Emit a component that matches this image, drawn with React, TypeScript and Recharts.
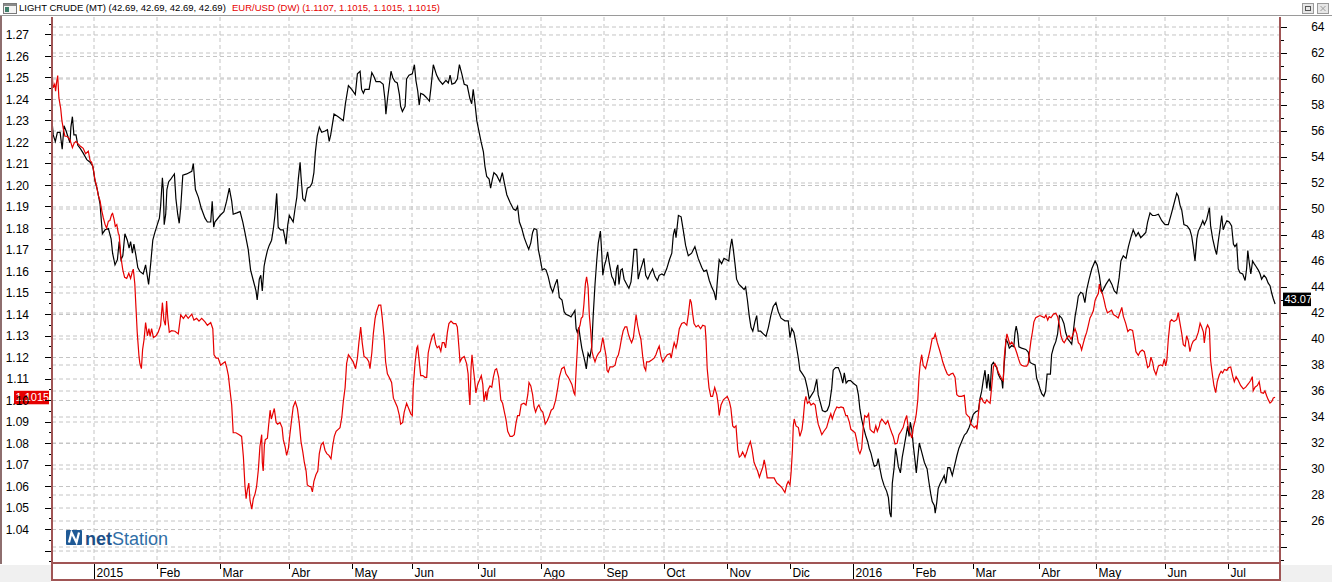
import React from 'react';
import { LineChart, Line, XAxis, YAxis, CartesianGrid, ReferenceLine } from 'recharts';

// ---------- data ----------
// [trading-day index, LIGHT CRUDE close]
const crudeSeries: [number, number][] = [
[0,56.8],[0.4,55.7],[1.1,55.2],[1.8,55.9],[2.7,55.9],[3.4,54.6],[4,56.4],[4.7,56.0],[5.4,55.5],[6,55.1],[6.3,56.3],[6.8,57.1],[7.3,55.7],[8,55.7],[8.6,54.9],[9.3,54.7],[10.4,54.3],[11.6,53.8],[12.7,53.6],[13.6,53.3],[14.3,52.2],[15.1,51.5],[16,50.4],[16.8,48.1],[17.7,48.4],[18.8,48.5],[19.7,47.7],[20.2,46.6],[21,45.7],[21.8,46.1],[22.4,47.5],[23,46.1],[23.6,46.4],[24.3,48.1],[25.1,47.6],[25.7,47.0],[26.2,47.5],[26.8,46.6],[27.3,47.3],[28,46.4],[28.6,45.5],[29.3,45.2],[30.4,45.0],[31.2,45.7],[31.8,44.8],[32.2,44.2],[32.9,45.8],[33.6,47.6],[34.3,48.2],[35.1,48.8],[35.8,49.3],[36.2,50.2],[36.8,52.4],[37.1,51.5],[37.4,48.8],[37.9,49.6],[38.3,51.5],[38.9,52.1],[39.6,52.3],[40.2,52.5],[40.8,52.7],[41.3,50.8],[41.9,49.6],[42.4,48.9],[42.9,50.1],[43.6,52.6],[44.9,52.7],[46.6,52.9],[47.1,53.5],[47.8,51.5],[48.8,50.9],[49.7,50.1],[51,49.3],[51.8,49.0],[52.9,49.0],[53.4,50.6],[53.9,48.6],[54.3,49.0],[56,49.5],[57.3,49.8],[58.2,50.6],[59.1,51.6],[59.9,50.6],[60.4,49.6],[61.6,49.7],[62.7,49.8],[63.6,49.0],[64.3,48.2],[65.4,46.9],[66.2,45.3],[67.1,44.5],[68,43.7],[68.4,43.0],[69.1,44.6],[69.6,44.9],[70.1,43.7],[70.7,45.6],[71.2,46.2],[71.8,46.8],[72.4,47.2],[73.2,47.6],[73.8,48.5],[74.3,49.5],[74.9,51.2],[75.4,48.6],[76.2,48.4],[77.1,48.4],[77.7,47.7],[78,47.3],[78.6,48.8],[79.1,49.5],[79.9,49.2],[80.4,49.0],[81,50.0],[81.6,50.9],[82.1,52.3],[82.7,53.6],[83,52.5],[83.6,50.8],[84.3,50.6],[85.1,51.6],[86,51.7],[86.7,52.0],[87.3,52.8],[87.8,54.4],[88.4,55.6],[89.1,56.3],[89.9,55.9],[91,56.0],[91.8,56.1],[92.4,55.2],[92.9,55.7],[93.6,56.7],[94,57.3],[95.4,57.1],[97.1,56.8],[97.8,58.1],[98.8,59.5],[99.9,59.2],[101.1,58.8],[101.8,60.4],[102.7,60.6],[103.2,59.2],[103.8,58.9],[104.3,59.2],[105.7,59.2],[106.6,60.5],[107.3,60.2],[108,59.8],[109.3,59.8],[110.4,59.6],[111,58.4],[111.3,57.3],[111.8,58.4],[112.4,59.5],[113,60.6],[113.6,60.1],[114.3,59.8],[115.1,59.7],[115.8,58.8],[116.2,57.9],[116.8,57.5],[117.7,57.9],[118.2,60.0],[119,60.3],[120.1,60.4],[120.8,61.1],[121.3,59.9],[121.9,59.1],[122.4,58.0],[122.9,58.9],[123.8,58.8],[124.7,58.6],[125.8,58.3],[126.3,59.3],[127.1,61.1],[128.2,60.3],[129.1,59.9],[130.2,59.6],[131.3,59.9],[132.1,59.7],[132.7,60.3],[133.3,59.6],[134.3,59.7],[135.1,60.0],[135.8,61.1],[136.6,60.4],[137.4,59.6],[138.4,59.5],[139.3,58.5],[139.9,58.1],[140.4,59.2],[141,58.1],[141.6,56.8],[142.3,56.0],[143,55.2],[143.8,54.4],[144.3,53.3],[144.9,52.5],[145.7,52.3],[146.2,51.6],[146.8,52.3],[147.3,52.8],[148.2,52.6],[149.3,52.1],[150.1,52.8],[150.8,52.0],[151.6,51.1],[152.7,50.5],[153.8,50.0],[154.6,49.9],[155.2,50.2],[155.8,49.0],[156.6,48.5],[157.4,47.8],[158.2,47.3],[158.9,46.9],[159.6,47.4],[160.2,48.2],[160.7,48.5],[161.6,48.4],[162.1,46.9],[162.7,46.2],[163.4,45.3],[164.1,45.4],[164.7,45.3],[165.4,44.8],[166.2,44.0],[166.9,43.6],[167.7,44.2],[168.4,44.6],[169.1,43.2],[170,43.0],[170.7,42.1],[171.3,41.9],[172.3,41.8],[173,41.7],[173.8,42.0],[174.3,42.2],[174.7,40.8],[175.1,40.5],[175.6,40.9],[176,40.2],[176.6,39.3],[177.1,38.8],[177.7,38.2],[178.1,37.7],[178.7,38.9],[179.3,38.6],[179.9,39.4],[180.4,41.8],[181,44.2],[181.6,46.1],[182.1,47.4],[182.8,48.3],[183.2,46.8],[183.6,44.9],[184.1,45.6],[184.7,46.1],[185.2,46.7],[185.8,45.8],[186.6,44.8],[187.1,44.6],[187.7,44.1],[188.2,45.4],[188.6,45.7],[189,44.2],[189.6,45.3],[190.1,45.4],[190.7,44.6],[191.6,44.2],[192.3,43.9],[193,44.4],[193.6,45.8],[194,46.9],[194.9,46.9],[195.4,44.6],[196,45.2],[196.8,45.8],[197.3,46.2],[197.9,44.9],[198.6,44.6],[199.3,45.0],[200.2,45.4],[201,44.8],[201.8,44.5],[202.4,44.9],[203.3,45.0],[204,44.9],[204.9,45.4],[205.8,46.1],[206.6,46.6],[207.1,48.0],[207.6,48.5],[208,47.8],[208.8,49.5],[209.7,49.4],[210.4,48.4],[211.2,47.2],[212.1,46.4],[213.2,46.6],[214.3,47.1],[215.4,46.2],[216.6,45.5],[217.3,45.2],[218.2,45.3],[219.1,44.5],[219.9,44.0],[220.7,43.6],[221.3,43.0],[221.9,44.8],[222.4,46.1],[223.2,45.8],[224,46.2],[224.9,46.1],[225.6,46.0],[226,46.9],[226.6,47.7],[227.1,46.9],[227.7,45.7],[228.2,44.6],[229,44.2],[229.9,44.0],[230.7,43.8],[231.2,44.0],[231.8,43.0],[232.4,41.8],[233,40.9],[233.6,40.6],[234.3,41.3],[234.9,41.8],[235.4,40.6],[236.2,40.6],[237.1,40.4],[238,40.2],[238.8,40.9],[239.6,41.8],[240.4,42.5],[241.3,42.8],[242.1,42.1],[243,41.6],[244.3,41.4],[245.4,41.4],[246,40.1],[246.6,40.8],[247.3,40.5],[248,39.6],[248.8,38.5],[249.3,37.6],[250.2,37.3],[251,37.0],[251.8,36.2],[252.4,35.4],[253.2,35.7],[254,36.0],[254.9,36.9],[255.4,35.7],[256,35.2],[256.8,34.5],[257.7,34.4],[258.4,34.5],[259.1,34.9],[259.9,36.2],[260.4,37.6],[261.2,37.8],[262.1,37.8],[262.9,37.3],[263.6,36.6],[264.1,37.4],[264.7,36.6],[265.4,36.8],[266.2,36.8],[267.1,36.6],[268.2,36.4],[268.8,35.7],[269.3,34.6],[269.9,33.8],[270.4,33.3],[271.2,32.6],[271.9,32.1],[272.4,31.6],[273,31.2],[273.6,30.6],[274.1,30.2],[274.9,30.3],[275.4,30.8],[275.9,30.1],[276.6,29.3],[277.4,28.7],[278.2,28.3],[278.8,27.8],[279.3,26.6],[279.7,26.3],[280.1,28.9],[280.7,30.1],[281.2,31.6],[281.7,30.9],[282.1,30.2],[282.8,29.7],[283.4,30.9],[284.1,31.8],[284.7,32.6],[285.2,33.3],[285.7,32.5],[286.1,33.6],[286.6,33.0],[287.1,31.8],[287.7,30.6],[288.1,29.7],[288.6,30.9],[289.1,32.0],[289.9,31.3],[290.8,30.5],[291.7,30.0],[292.3,29.0],[292.9,28.1],[293.4,27.5],[294.1,27.2],[294.4,26.6],[294.9,27.4],[295.4,28.5],[296.1,28.9],[296.8,29.2],[297.4,29.5],[297.9,28.9],[298.6,30.1],[299.3,30.1],[300.1,29.5],[300.8,30.2],[301.6,31.0],[302.3,31.6],[303.2,32.1],[304.1,32.6],[304.9,32.8],[305.7,33.2],[306.3,33.6],[307.1,34.2],[307.9,34.4],[308.8,34.5],[309.3,35.4],[309.9,36.0],[310.4,36.8],[311,37.6],[311.6,36.2],[312.1,37.3],[312.7,36.0],[313.2,38.0],[313.8,38.2],[314.3,38.0],[314.9,37.8],[315.4,37.3],[316,37.0],[316.6,36.8],[316.9,36.2],[317.3,37.8],[317.7,38.9],[318,40.0],[318.6,39.7],[319.1,39.3],[319.9,39.5],[320.6,39.4],[321,40.5],[321.4,41.0],[321.9,40.4],[322.3,39.4],[323.2,39.3],[324.6,39.2],[325.4,39.0],[326,38.2],[326.8,38.1],[327.7,38.0],[328.2,37.0],[328.8,36.6],[329.3,36.2],[329.9,35.8],[330.6,35.6],[331.2,36.0],[331.7,37.3],[332.3,37.3],[332.8,37.3],[333.2,38.8],[333.9,39.4],[334.6,39.8],[335.2,40.4],[335.8,41.8],[336.6,41.6],[337.3,41.2],[337.9,40.5],[338.6,40.0],[339.3,39.8],[339.9,39.6],[340.4,40.5],[341,41.7],[341.6,42.5],[342.1,43.3],[342.9,43.6],[343.6,43.5],[344.3,42.8],[344.9,43.8],[345.7,44.6],[346.6,45.4],[347.7,46.0],[348.4,45.7],[349.1,44.9],[349.9,43.6],[350.4,43.8],[351.3,44.2],[352.4,44.6],[353.3,44.2],[354.1,43.7],[354.9,43.5],[355.7,44.7],[356.3,46.0],[357.1,46.4],[358,46.2],[358.8,47.1],[359.6,47.8],[360.4,48.4],[361.3,47.9],[362.1,48.2],[362.9,47.8],[363.8,48.0],[364.6,48.2],[365.2,49.0],[366,49.7],[366.8,49.5],[367.7,49.5],[368.8,49.6],[369.9,49.1],[371,48.8],[372.1,48.8],[373.2,49.7],[374.1,50.5],[374.9,51.2],[375.4,51.0],[376,50.3],[376.6,49.9],[377.3,48.8],[378.4,48.7],[379.3,48.4],[379.9,47.9],[380.4,47.1],[381,46.0],[381.6,47.7],[382.1,48.3],[382.9,48.7],[383.6,49.1],[384.1,48.8],[384.9,49.2],[385.8,50.1],[386.2,48.7],[386.9,47.7],[387.7,46.9],[388.2,46.5],[388.8,47.6],[389.3,48.4],[389.9,49.5],[390.4,48.4],[391,48.8],[391.6,49.1],[392.4,49.0],[393.2,48.7],[393.8,47.3],[394.3,47.1],[394.9,47.3],[395.4,45.4],[396,45.1],[396.9,45.0],[397.7,44.5],[398.2,45.4],[398.6,46.8],[399,46.0],[399.6,45.0],[400.2,46.0],[400.7,45.8],[401.3,45.6],[402.1,45.3],[402.7,45.0],[403.2,44.6],[404,44.9],[404.7,44.7],[405.4,44.3],[406,44.1],[406.6,43.5],[407.1,43.1],[407.7,42.69]
];

// [trading-day index, EUR/USD close]
const eurSeries: [number, number][] = [
[0.1,1.2503],[0.4,1.2455],[0.9,1.2471],[1.2,1.2439],[1.6,1.2487],[1.9,1.2511],[2.3,1.2407],[2.9,1.2358],[3.3,1.2302],[3.8,1.2261],[4.3,1.2229],[4.9,1.2229],[5.4,1.2224],[6,1.2213],[6.8,1.2176],[7.4,1.2197],[8,1.2205],[8.8,1.2192],[9.6,1.2181],[10.4,1.2173],[11.2,1.2148],[12.1,1.2160],[12.7,1.2116],[13.2,1.2108],[13.8,1.2076],[14.3,1.2028],[14.9,1.1995],[15.4,1.1955],[16,1.1930],[16.6,1.1882],[17.1,1.1850],[17.7,1.1818],[18.2,1.1802],[18.8,1.1834],[19.3,1.1837],[19.9,1.1866],[20.2,1.1870],[20.7,1.1842],[21.1,1.1810],[21.6,1.1818],[22.1,1.1778],[22.4,1.1769],[22.9,1.1673],[23.6,1.1608],[24.2,1.1573],[24.9,1.1568],[25.6,1.1592],[26.2,1.1568],[26.8,1.1600],[27.1,1.1611],[27.6,1.1543],[28,1.1430],[28.4,1.1318],[29,1.1205],[29.3,1.1172],[29.8,1.1148],[30.2,1.1237],[30.7,1.1285],[31.2,1.1363],[31.8,1.1301],[32.3,1.1334],[32.7,1.1298],[33.2,1.1334],[33.8,1.1293],[34.7,1.1301],[35.4,1.1318],[36.2,1.1350],[36.8,1.1455],[37.3,1.1374],[37.8,1.1350],[38.2,1.1463],[38.6,1.1382],[39.1,1.1318],[39.9,1.1325],[41,1.1322],[42.1,1.1310],[42.9,1.1398],[43.8,1.1382],[44.6,1.1398],[45.4,1.1382],[46.6,1.1402],[47.3,1.1374],[48.2,1.1382],[49,1.1369],[49.9,1.1382],[51,1.1366],[51.8,1.1350],[52.9,1.1363],[53.6,1.1334],[54,1.1213],[54.7,1.1197],[55.4,1.1197],[56.2,1.1164],[56.9,1.1172],[57.7,1.1180],[58.2,1.1156],[58.8,1.1116],[59.3,1.1051],[59.9,1.0979],[60.4,1.0850],[61.3,1.0850],[62.4,1.0841],[63.2,1.0833],[63.8,1.0737],[64.3,1.0607],[64.7,1.0543],[65.1,1.0583],[65.6,1.0616],[66,1.0535],[66.6,1.0495],[67.1,1.0543],[67.7,1.0567],[68.2,1.0600],[68.8,1.0680],[69.3,1.0785],[69.9,1.0841],[70.1,1.0713],[70.4,1.0672],[70.8,1.0793],[71.1,1.0818],[71.8,1.0825],[72.3,1.0898],[72.7,1.0955],[73.1,1.0914],[73.6,1.0938],[74.1,1.0963],[74.7,1.0898],[75.2,1.0890],[76,1.0898],[76.7,1.0874],[77.1,1.0818],[77.7,1.0785],[78.2,1.0745],[78.8,1.0777],[79.3,1.0842],[79.9,1.0914],[80.4,1.0970],[81.1,1.0995],[81.8,1.0963],[82.4,1.0898],[83,1.0809],[83.6,1.0761],[84.1,1.0713],[84.7,1.0672],[85.1,1.0607],[85.8,1.0600],[86.3,1.0600],[86.8,1.0575],[87.3,1.0624],[88,1.0656],[88.6,1.0672],[89.1,1.0753],[89.7,1.0793],[90.4,1.0805],[91,1.0769],[91.6,1.0753],[92.3,1.0745],[93,1.0729],[93.6,1.0793],[94.1,1.0833],[94.7,1.0857],[95.4,1.0866],[96,1.0874],[96.6,1.0922],[97.1,1.0995],[97.7,1.1060],[98.2,1.1172],[98.8,1.1213],[99.6,1.1197],[100.4,1.1180],[101.2,1.1148],[101.8,1.1197],[102.3,1.1269],[102.9,1.1342],[103.4,1.1269],[104,1.1205],[104.9,1.1197],[105.6,1.1180],[106,1.1148],[106.6,1.1221],[107.1,1.1310],[107.7,1.1382],[108.2,1.1414],[108.9,1.1444],[109.6,1.1444],[110.1,1.1382],[110.7,1.1293],[111.2,1.1180],[111.8,1.1124],[112.4,1.1108],[113.2,1.1084],[113.8,1.1011],[114.3,1.0995],[115.1,1.0970],[115.8,1.0930],[116.2,1.0890],[116.9,1.0898],[117.4,1.0946],[118.2,1.0987],[118.9,1.0963],[119.6,1.0938],[120.1,1.0930],[120.4,1.1060],[121,1.1172],[121.6,1.1245],[121.9,1.1253],[122.3,1.1197],[122.9,1.1116],[123.6,1.1116],[124.3,1.1108],[124.9,1.1108],[125.4,1.1221],[126,1.1261],[126.8,1.1301],[127.3,1.1310],[127.9,1.1261],[128.4,1.1245],[129,1.1253],[129.6,1.1229],[130.1,1.1269],[130.7,1.1269],[131.2,1.1245],[131.8,1.1318],[132.3,1.1358],[133,1.1369],[133.8,1.1358],[134.6,1.1358],[135.1,1.1342],[135.7,1.1237],[136,1.1180],[136.6,1.1197],[137.4,1.1205],[138.2,1.1172],[138.7,1.1124],[139,1.1035],[139.3,1.0979],[139.7,1.1156],[140,1.1213],[140.4,1.1156],[140.9,1.1092],[141.3,1.1035],[141.9,1.1075],[142.4,1.1092],[143.1,1.1116],[143.6,1.1075],[144,1.0995],[144.6,1.1043],[144.9,1.1003],[145.4,1.1051],[146,1.1068],[146.6,1.1062],[147.1,1.1108],[147.7,1.1143],[148.2,1.1148],[148.9,1.1108],[149.6,1.1003],[150.2,1.0987],[150.8,1.0946],[151.3,1.0914],[151.9,1.0857],[152.7,1.0833],[153.4,1.0833],[154.1,1.0841],[154.7,1.0898],[155.2,1.0930],[155.8,1.0930],[156.4,1.0982],[157.3,1.0987],[158,1.0979],[158.6,1.1027],[159,1.1084],[159.6,1.1068],[160.2,1.1027],[160.7,1.0970],[161.2,1.0946],[161.8,1.0970],[162.3,1.0979],[163,1.0955],[163.6,1.0946],[164,1.0922],[164.4,1.0890],[165.1,1.0906],[165.8,1.0930],[166.4,1.0955],[167.1,1.0963],[167.9,1.1003],[168.6,1.1060],[169.1,1.1108],[169.9,1.1148],[170.7,1.1156],[171.3,1.1124],[172.1,1.1108],[172.7,1.1092],[173.3,1.1075],[174,1.1035],[174.3,1.1027],[174.7,1.1140],[175.1,1.1237],[175.4,1.1325],[176,1.1350],[176.4,1.1382],[176.9,1.1390],[177.3,1.1447],[177.8,1.1543],[178.2,1.1575],[178.7,1.1527],[179.1,1.1398],[179.6,1.1318],[180,1.1229],[180.4,1.1205],[181,1.1180],[181.6,1.1205],[182.1,1.1218],[182.8,1.1229],[183.2,1.1261],[183.6,1.1293],[184.1,1.1253],[184.7,1.1205],[185,1.1140],[185.4,1.1132],[186,1.1156],[186.9,1.1156],[187.7,1.1164],[188.2,1.1197],[188.8,1.1213],[189.3,1.1245],[189.9,1.1293],[190.4,1.1325],[191,1.1342],[191.6,1.1342],[192.1,1.1310],[192.7,1.1285],[193.2,1.1269],[193.8,1.1293],[194.2,1.1342],[194.7,1.1398],[195.2,1.1350],[195.8,1.1310],[196.3,1.1285],[196.9,1.1205],[197.4,1.1156],[197.9,1.1140],[198.2,1.1180],[199,1.1180],[199.9,1.1188],[200.7,1.1197],[201.3,1.1213],[201.9,1.1237],[202.4,1.1253],[203,1.1205],[203.6,1.1180],[204.3,1.1197],[205.1,1.1213],[206,1.1218],[206.4,1.1197],[206.9,1.1237],[207.4,1.1269],[208,1.1245],[208.4,1.1269],[209.1,1.1334],[209.9,1.1358],[210.7,1.1363],[211.6,1.1350],[212.1,1.1398],[212.7,1.1471],[213.1,1.1455],[213.6,1.1398],[214,1.1358],[214.7,1.1342],[215.4,1.1350],[216.2,1.1334],[216.9,1.1350],[217.7,1.1346],[218,1.1285],[218.4,1.1148],[219,1.1060],[219.6,1.1019],[220.2,1.1019],[220.9,1.1060],[221.6,1.1027],[222.1,1.0979],[222.4,1.0930],[223,1.0979],[223.8,1.1003],[224.4,1.1011],[225.1,1.1019],[225.8,1.0995],[226.3,1.0963],[226.9,1.0882],[227.4,1.0874],[228,1.0882],[228.6,1.0769],[229.1,1.0737],[229.7,1.0745],[230.2,1.0761],[231,1.0737],[231.6,1.0761],[232.1,1.0785],[232.8,1.0809],[233.4,1.0769],[234,1.0713],[234.7,1.0688],[235.2,1.0672],[235.8,1.0643],[236.3,1.0665],[236.9,1.0688],[237.4,1.0724],[237.9,1.0688],[238.4,1.0640],[239.3,1.0640],[240.7,1.0640],[241.6,1.0616],[242.4,1.0607],[243.3,1.0595],[244.3,1.0572],[244.9,1.0607],[245.4,1.0624],[246,1.0607],[246.4,1.0672],[246.8,1.0769],[247.1,1.0882],[247.4,1.0914],[248,1.0882],[248.8,1.0874],[249.3,1.0833],[250,1.0866],[250.4,1.0914],[250.9,1.0995],[251.3,1.1019],[251.8,1.0987],[252.4,1.0995],[253,1.0979],[253.8,1.0987],[254.4,1.0979],[254.9,1.0930],[255.4,1.0890],[256,1.0866],[256.6,1.0841],[257.3,1.0857],[258.2,1.0874],[259,1.0914],[259.6,1.0938],[260.1,1.0914],[260.8,1.0946],[261.6,1.0970],[262.3,1.0966],[263,1.0970],[263.8,1.0966],[264.6,1.0930],[265.1,1.0930],[265.8,1.0898],[266.3,1.0866],[267.1,1.0857],[267.7,1.0850],[268.2,1.0818],[268.8,1.0769],[269.3,1.0753],[269.9,1.0777],[270.4,1.0874],[270.9,1.0930],[271.6,1.0922],[272.2,1.0938],[272.7,1.0866],[273.3,1.0857],[274,1.0850],[274.6,1.0882],[275.1,1.0857],[275.8,1.0882],[276,1.0898],[276.6,1.0914],[277.3,1.0901],[277.9,1.0890],[278.6,1.0906],[279.3,1.0874],[279.9,1.0850],[280.4,1.0833],[281,1.0798],[281.7,1.0801],[282.3,1.0841],[283,1.0857],[283.7,1.0874],[284.3,1.0906],[284.9,1.0930],[285.4,1.0874],[286,1.0850],[286.6,1.0825],[287.1,1.0874],[287.7,1.0906],[288.1,1.0938],[288.6,1.1003],[289,1.1108],[289.4,1.1172],[289.9,1.1213],[290.4,1.1164],[291.2,1.1148],[291.9,1.1188],[292.7,1.1237],[293.4,1.1289],[293.9,1.1289],[294.4,1.1310],[295.1,1.1269],[295.8,1.1237],[296.3,1.1213],[296.9,1.1180],[297.7,1.1148],[298.4,1.1124],[299,1.1116],[299.7,1.1124],[300.3,1.1127],[301,1.1108],[301.6,1.1027],[302.3,1.1019],[303.2,1.1019],[304.1,1.1024],[304.7,1.0938],[305.2,1.0930],[305.8,1.0922],[306.3,1.0890],[306.9,1.0882],[307.4,1.0874],[308,1.0882],[308.3,1.0866],[308.8,1.0938],[309.3,1.1003],[309.9,1.1011],[310.4,1.0995],[311,1.0987],[311.6,1.1003],[312.1,1.0995],[312.7,1.0987],[313.2,1.1060],[313.8,1.1156],[314.3,1.1172],[314.9,1.1156],[315.4,1.1132],[316,1.1116],[316.6,1.1100],[317.1,1.1092],[317.4,1.1197],[317.9,1.1269],[318.3,1.1310],[318.8,1.1285],[319.3,1.1261],[319.9,1.1272],[320.4,1.1261],[321,1.1245],[321.6,1.1221],[322.1,1.1197],[322.7,1.1172],[323.2,1.1164],[324,1.1160],[324.9,1.1160],[325.4,1.1172],[325.8,1.1221],[326.3,1.1277],[326.8,1.1318],[327.3,1.1366],[327.9,1.1385],[328.6,1.1390],[329.3,1.1395],[330.1,1.1390],[330.8,1.1385],[331.3,1.1398],[331.9,1.1374],[332.4,1.1390],[333,1.1385],[333.8,1.1402],[334.6,1.1406],[335.2,1.1390],[335.8,1.1350],[336.3,1.1302],[336.9,1.1277],[337.4,1.1269],[338.2,1.1289],[339,1.1301],[339.7,1.1285],[340.4,1.1310],[341,1.1334],[341.6,1.1310],[342.1,1.1269],[342.7,1.1260],[343.2,1.1235],[343.8,1.1268],[344.3,1.1293],[344.9,1.1318],[345.4,1.1347],[346,1.1384],[346.6,1.1400],[347.1,1.1417],[347.7,1.1466],[348.2,1.1482],[348.8,1.1499],[349.1,1.1541],[349.6,1.1508],[350.1,1.1499],[350.7,1.1466],[351.2,1.1433],[351.8,1.1408],[352.4,1.1413],[353.2,1.1420],[353.8,1.1400],[354.7,1.1392],[355.4,1.1384],[356,1.1408],[356.6,1.1433],[357.1,1.1392],[357.9,1.1359],[358.6,1.1321],[359.3,1.1331],[360.2,1.1326],[360.8,1.1276],[361.3,1.1227],[362.1,1.1210],[362.7,1.1227],[363.4,1.1235],[364.1,1.1227],[364.7,1.1189],[365.2,1.1153],[365.8,1.1161],[366.3,1.1202],[366.9,1.1177],[367.3,1.1144],[368,1.1120],[368.8,1.1161],[369.6,1.1166],[370.2,1.1161],[370.8,1.1194],[371.2,1.1161],[371.6,1.1186],[372.1,1.1285],[372.7,1.1367],[373.2,1.1376],[374,1.1367],[374.9,1.1376],[375.4,1.1409],[376,1.1359],[376.6,1.1310],[377.1,1.1260],[377.7,1.1252],[378.2,1.1301],[378.8,1.1276],[379.3,1.1227],[379.9,1.1260],[380.4,1.1276],[381.3,1.1285],[382.1,1.1318],[382.7,1.1359],[383.2,1.1343],[383.8,1.1318],[384.1,1.1268],[384.7,1.1334],[385.2,1.1351],[385.8,1.1334],[386.2,1.1186],[386.8,1.1120],[387.3,1.1070],[387.9,1.1037],[388.4,1.1087],[389.1,1.1120],[389.7,1.1136],[390.2,1.1128],[390.8,1.1144],[391.6,1.1140],[392.2,1.1153],[392.9,1.1156],[393.6,1.1111],[394.1,1.1087],[394.7,1.1111],[395.4,1.1094],[396.2,1.1070],[397.1,1.1054],[397.9,1.1062],[398.8,1.1078],[399.6,1.1094],[400.1,1.1111],[400.4,1.1045],[401,1.1062],[401.8,1.1070],[402.4,1.1087],[403,1.1037],[403.8,1.1034],[404.3,1.1045],[404.9,1.1021],[405.4,1.1004],[406,1.0988],[406.6,1.0996],[407.1,1.1012],[407.7,1.1015]
];

const monthTickDays = [14, 35, 56, 79, 100, 120, 142, 163, 184, 204, 225, 246, 267, 287, 307, 329, 348, 371, 392];
const monthTickLabels = ['2015', 'Feb', 'Mar', 'Abr', 'May', 'Jun', 'Jul', 'Ago', 'Sep', 'Oct', 'Nov', 'Dic', '2016', 'Feb', 'Mar', 'Abr', 'May', 'Jun', 'Jul'];

const eurMajorTicks = [1.03, 1.04, 1.05, 1.06, 1.07, 1.08, 1.09, 1.1, 1.11, 1.12, 1.13, 1.14, 1.15, 1.16, 1.17, 1.18, 1.19, 1.2, 1.21, 1.22, 1.23, 1.24, 1.25, 1.26, 1.27];
const eurMinorTicks = [1.025, 1.035, 1.045, 1.055, 1.065, 1.075, 1.085, 1.095, 1.105, 1.115, 1.125, 1.135, 1.145, 1.155, 1.165, 1.175, 1.185, 1.195, 1.205, 1.215, 1.225, 1.235, 1.245, 1.255, 1.265, 1.275];
const crudeMajorTicks = [24, 26, 28, 30, 32, 34, 36, 38, 40, 42, 44, 46, 48, 50, 52, 54, 56, 58, 60, 62, 64];
const crudeMinorTicks = [23, 25, 27, 29, 31, 33, 35, 37, 39, 41, 43, 45, 47, 49, 51, 53, 55, 57, 59, 61, 63];

const eurDomain: [number, number] = [1.02443, 1.27836];
const crudeDomain: [number, number] = [22.77, 64.77];
const dayDomain: [number, number] = [0, 409.33];

const crudeLast = 43.07;
const eurLast = 1.1015;
const crudeTitle = 'LIGHT CRUDE (MT) (42.69, 42.69, 42.69, 42.69)';
const eurTitle = 'EUR/USD (DW) (1.1107, 1.1015, 1.1015, 1.1015)';

// ---------- styles ----------
const FONT = '"Liberation Sans", Arial, sans-serif';
const BROWN = '#A05555';
const GRID = '#C4C4C4';
const RED = '#E60000';

const crudeData = crudeSeries.map(([day, v]) => ({ day, crude: v }));
const eurData = eurSeries.map(([day, v]) => ({ day, eur: v }));

const isMajorEur = (v: number) => Math.abs(v * 100 - Math.round(v * 100)) < 1e-6;

const LeftTick = (props: any) => {
  const { y, payload } = props;
  const v = payload.value as number;
  const major = isMajorEur(v);
  return (
    <g>
      <line x1={major ? 45 : 49} x2={51} y1={y} y2={y} stroke="#000" strokeWidth={1} shapeRendering="crispEdges" />
      {major && v > 1.035 ? (
        <text x={29} y={y + 4.3} textAnchor="end" fontSize={12} fontFamily={FONT} fill="#000">{v.toFixed(2)}</text>
      ) : null}
    </g>
  );
};

const RightTick = (props: any) => {
  const { y, payload } = props;
  const v = payload.value as number;
  const major = v % 2 === 0;
  return (
    <g>
      <line x1={1281} x2={major ? 1287 : 1284} y1={y} y2={y} stroke="#000" strokeWidth={1} shapeRendering="crispEdges" />
      {major && v >= 26 ? (
        <text x={1324.5} y={y + 4.2} textAnchor="end" fontSize={12} fontFamily={FONT} fill="#000">{v}</text>
      ) : null}
    </g>
  );
};

const MonthTick = (props: any) => {
  const { x, payload } = props;
  const idx = monthTickDays.indexOf(payload.value);
  const label = monthTickLabels[idx] ?? '';
  const isYear = /^\d{4}$/.test(label);
  return (
    <g>
      <line x1={x} x2={x} y1={564} y2={isYear ? 579 : 569} stroke="#000" strokeWidth={1} shapeRendering="crispEdges" />
      <text x={x + 2.5} y={577} textAnchor="start" fontSize={12} fontFamily={FONT} fill="#000">{label}</text>
    </g>
  );
};

const EurTag = (props: any) => {
  const y = props.viewBox ? props.viewBox.y : 0;
  return (
    <g>
      <rect x={14} y={y - 6.5} width={35} height={13.5} fill={RED} />
      <text x={15.5} y={y + 4} fontSize={11} fontFamily={FONT} fill="#fff">{eurLast.toFixed(4)}</text>
    </g>
  );
};

const CrudeTag = (props: any) => {
  const y = props.viewBox ? props.viewBox.y : 0;
  return (
    <g>
      <rect x={1283} y={y - 6.5} width={28} height={13.5} fill="#000" />
      <text x={1284.5} y={y + 4} fontSize={11} fontFamily={FONT} fill="#fff">{crudeLast.toFixed(2)}</text>
    </g>
  );
};

const abs = (l: number, t: number, w: number, h: number, extra: React.CSSProperties = {}): React.CSSProperties => ({
  position: 'absolute', left: l, top: t, width: w, height: h, ...extra,
});

export default function App() {
  return (
    <div style={{ position: 'fixed', left: 0, top: 0, width: 1332, height: 582, background: '#fff', overflow: 'hidden' }}>
      <div style={abs(0, 0, 1332, 582)}>
        <LineChart width={1332} height={582} margin={{ top: 17, right: 0, bottom: 2, left: 0 }} style={{ fontFamily: FONT }}>
          <CartesianGrid yAxisId="left" horizontalValues={eurMajorTicks} verticalValues={monthTickDays} stroke={GRID} strokeDasharray="4 3" />
          <CartesianGrid yAxisId="right" vertical={false} horizontalValues={crudeMajorTicks} stroke={GRID} strokeDasharray="4 3" />
          <XAxis
            type="number"
            dataKey="day"
            domain={dayDomain}
            allowDataOverflow
            ticks={monthTickDays}
            interval={0}
            height={17}
            tickLine={false}
            axisLine={{ stroke: BROWN, strokeWidth: 2 }}
            tick={<MonthTick />}
          />
          <YAxis
            yAxisId="left"
            orientation="left"
            type="number"
            width={52}
            domain={eurDomain}
            allowDataOverflow
            ticks={[...eurMajorTicks, ...eurMinorTicks].sort((a, b) => a - b)}
            interval={0}
            tickLine={false}
            axisLine={{ stroke: BROWN, strokeWidth: 2 }}
            tick={<LeftTick />}
          />
          <YAxis
            yAxisId="right"
            orientation="right"
            type="number"
            width={52}
            domain={crudeDomain}
            allowDataOverflow
            ticks={[...crudeMajorTicks, ...crudeMinorTicks].sort((a, b) => a - b)}
            interval={0}
            tickLine={false}
            axisLine={{ stroke: BROWN, strokeWidth: 2 }}
            tick={<RightTick />}
          />
          <Line yAxisId="right" data={crudeData} dataKey="crude" type="linear" stroke="#000" strokeWidth={1.2} dot={false} activeDot={false} isAnimationActive={false} />
          <Line yAxisId="left" data={eurData} dataKey="eur" type="linear" stroke={RED} strokeWidth={1.2} dot={false} activeDot={false} isAnimationActive={false} />
          <ReferenceLine yAxisId="left" y={eurLast} stroke="none" label={<EurTag />} />
          <ReferenceLine yAxisId="right" y={crudeLast} stroke="none" label={<CrudeTag />} />
        </LineChart>
      </div>

      {/* title bar */}
      <div style={abs(0, 0, 1332, 16, { background: '#fff', borderBottom: '1px solid #9a9a9a', boxSizing: 'border-box' })}>
        <svg style={abs(3, 3, 14, 11)} width={14} height={11}>
          <rect x={0.5} y={0.5} width={13} height={10} fill="#f4f4f4" stroke="#7a7a7a" />
          <rect x={1} y={1} width={12} height={2} fill="#8a8a8a" />
          <rect x={2} y={4} width={4} height={5} fill="#3f7f6a" />
        </svg>
        <span style={{ position: 'absolute', left: 19, top: 2, fontSize: 9.5, lineHeight: '11px', fontFamily: FONT, color: '#000', whiteSpace: 'nowrap' }}>{crudeTitle}</span>
        <span style={{ position: 'absolute', left: 232, top: 2, fontSize: 9.5, lineHeight: '11px', fontFamily: FONT, color: RED, whiteSpace: 'nowrap' }}>{eurTitle}</span>
        <svg style={abs(1302, 3, 12, 11)} width={12} height={11}>
          <rect x={0.5} y={0.5} width={11} height={10} fill="#e6e6e6" stroke="#9a9a9a" />
          <rect x={3.5} y={3.5} width={5} height={4} fill="none" stroke="#555" />
        </svg>
        <svg style={abs(1317, 3, 12, 11)} width={12} height={11}>
          <rect x={0.5} y={0.5} width={11} height={10} fill="#e6e6e6" stroke="#9a9a9a" />
          <path d="M3.5 3 L8.5 8 M8.5 3 L3.5 8" stroke="#9a9a9a" strokeWidth={1} />
        </svg>
      </div>

      {/* frame */}
      <div style={abs(0, 16, 2, 548, { background: '#8E6E6E' })} />
      <div style={abs(0, 565, 51, 17, { background: '#F0F0F0' })} />
      <div style={abs(1281, 565, 51, 17, { background: '#F0F0F0' })} />
      <div style={abs(51, 563, 2, 18, { background: BROWN })} />
      <div style={abs(1279, 563, 2, 18, { background: BROWN })} />
      <div style={abs(51, 579, 1230, 2, { background: BROWN })} />

      {/* logo */}
      <svg style={abs(66, 530, 16, 15)} width={16} height={15}>
        <rect x={0} y={0} width={16} height={15} rx={1} fill="#1F5A96" />
        <path d="M3 12.5 L5.5 2.5 L10.5 12.5 L13 2.5" fill="none" stroke="#fff" strokeWidth={2.2} strokeLinejoin="miter" />
      </svg>
      <div style={{ position: 'absolute', left: 85, top: 529.5, fontSize: 18, lineHeight: '18px', fontFamily: FONT, whiteSpace: 'nowrap' }}>
        <span style={{ fontWeight: 'bold', color: '#1C4F88' }}>net</span>
        <span style={{ color: '#2F6EA6' }}>Station</span>
      </div>
    </div>
  );
}
